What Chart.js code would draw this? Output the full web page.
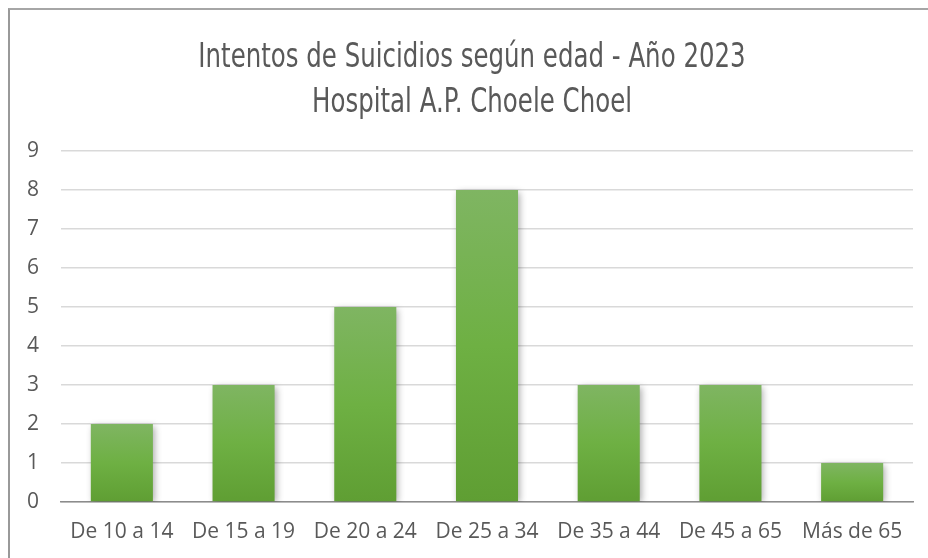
<!DOCTYPE html>
<html><head><meta charset="utf-8">
<script src="https://cdn.jsdelivr.net/npm/chart.js@4.4.1/dist/chart.umd.min.js"></script>
<style>
html,body{margin:0;padding:0;background:#fff;}
#wrap{position:absolute;left:0;top:0;width:928px;height:558px;overflow:hidden;}
#frame{position:absolute;left:8px;top:8px;width:1000px;height:700px;border-left:2px solid #999;border-top:2px solid #a6a6a6;}
#c{position:absolute;left:0;top:0;}
</style></head>
<body><div id="wrap"><div id="frame"></div><canvas id="c" width="928" height="558"></canvas></div>
<script>
const categories = ["De 10 a 14","De 15 a 19","De 20 a 24","De 25 a 34","De 35 a 44","De 45 a 65","Más de 65"];
const values = [2,3,5,8,3,3,1];
const titleLines = ["Intentos de Suicidios según edad - Año 2023","Hospital A.P. Choele Choel"];
const yTicks = [0,1,2,3,4,5,6,7,8,9];

function barFill(ctx){
  const chart = ctx.chart;
  if(!chart.chartArea || ctx.type!=='data') return '#6fae47';
  const ys = chart.scales.y;
  const top = ys.getPixelForValue(ctx.raw);
  const bot = ys.getPixelForValue(0);
  const g = chart.ctx.createLinearGradient(0, top, 0, bot);
  g.addColorStop(0,'#7fb562');
  g.addColorStop(0.5,'#6eb043');
  g.addColorStop(1,'#5f9e33');
  return g;
}
const shadowPlugin = {
  id:'shadow',
  beforeDatasetsDraw(chart){const c=chart.ctx;c.save();c.shadowColor='rgba(0,0,0,0.35)';c.shadowBlur=7;c.shadowOffsetX=2;c.shadowOffsetY=2;},
  afterDatasetsDraw(chart){chart.ctx.restore();}
};
// Condensed two-line title (reference uses a narrow typeface)
const condensedTitle = {
  id:'condensedTitle',
  afterDraw(chart){
    const c = chart.ctx;
    c.save();
    c.fillStyle = '#595959';
    c.font = 'normal 34px "DejaVu Sans", sans-serif';
    c.textAlign = 'center';
    c.textBaseline = 'alphabetic';
    const baselines = [66.5, 111.5];
    titleLines.forEach((t,i)=>{
      c.save();
      c.translate(472, baselines[i]);
      c.scale(0.72, 1);
      c.fillText(t, 0, 0);
      c.restore();
    });
    c.restore();
  }
};
new Chart(document.getElementById('c'),{
  type:'bar',
  data:{labels:categories,datasets:[{data:values,backgroundColor:barFill,borderWidth:0,categoryPercentage:1,barPercentage:0.51}]},
  plugins:[shadowPlugin, condensedTitle],
  options:{
    responsive:false,animation:false,
    layout:{padding:{left:0,right:15,top:151,bottom:0}},
    plugins:{
      legend:{display:false},tooltip:{enabled:false},title:{display:false}
    },
    scales:{
      x:{grid:{display:false,drawTicks:false},border:{display:true,color:'#8c8c8c',width:1.5},
         ticks:{color:'#595959',font:{family:'"Open Sans",sans-serif',size:21},padding:17,maxRotation:0},
         afterFit(s){s.height=56;}},
      y:{min:0,max:9,grid:{color:'#d9d9d9',lineWidth:1.5,drawTicks:false},border:{display:false},
         ticks:{stepSize:1,color:'#595959',font:{family:'"Open Sans",sans-serif',size:21},padding:22,
           callback:(v)=>yTicks.includes(v)?String(v):''},
         afterFit(s){s.width=61;}}
    }
  }
});
</script></body></html>
